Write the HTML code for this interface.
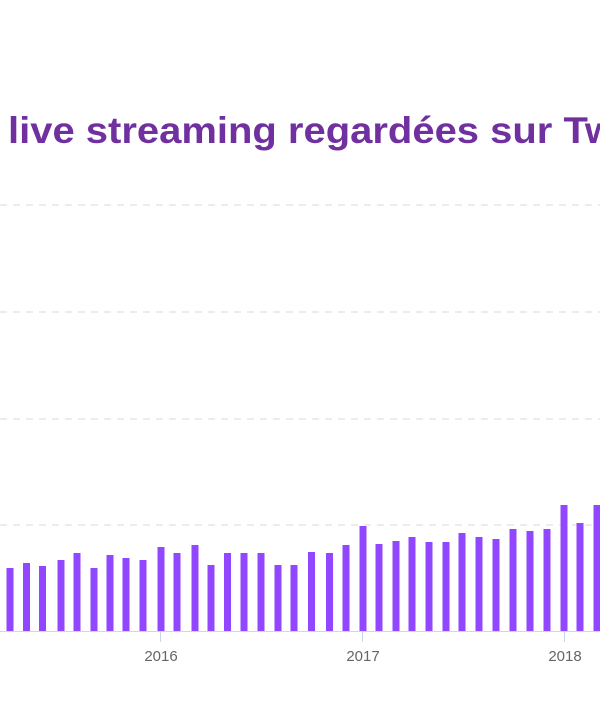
<!DOCTYPE html>
<html><head><meta charset="utf-8"><style>html,body{margin:0;padding:0;background:#fff;overflow:hidden}svg{display:block}</style></head>
<body>
<svg width="600" height="705" viewBox="0 0 600 705" xmlns="http://www.w3.org/2000/svg">
<text x="8" y="143" font-family="Liberation Sans, sans-serif" font-weight="bold" font-size="37" fill="#7030a0" textLength="608" lengthAdjust="spacingAndGlyphs">live streaming regardées sur Tw</text>
<g stroke="#e6e6e6" stroke-width="1.5" stroke-dasharray="7,6">
<line x1="0" y1="205" x2="600" y2="205"/><line x1="0" y1="312" x2="600" y2="312"/><line x1="0" y1="419" x2="600" y2="419"/><line x1="0" y1="525" x2="600" y2="525"/>
</g>
<g fill="#9147ff">
<rect x="6.5" y="568" width="7" height="63"/>
<rect x="23" y="563" width="7" height="68"/>
<rect x="39" y="566" width="7" height="65"/>
<rect x="57.5" y="560" width="7" height="71"/>
<rect x="73.5" y="553" width="7" height="78"/>
<rect x="90.5" y="568" width="7" height="63"/>
<rect x="106.5" y="555" width="7" height="76"/>
<rect x="122.5" y="558" width="7" height="73"/>
<rect x="139.5" y="560" width="7" height="71"/>
<rect x="157.5" y="547" width="7" height="84"/>
<rect x="173.5" y="553" width="7" height="78"/>
<rect x="191.5" y="545" width="7" height="86"/>
<rect x="207.5" y="565" width="7" height="66"/>
<rect x="224" y="553" width="7" height="78"/>
<rect x="240.5" y="553" width="7" height="78"/>
<rect x="257.5" y="553" width="7" height="78"/>
<rect x="274.5" y="565" width="7" height="66"/>
<rect x="290.5" y="565" width="7" height="66"/>
<rect x="308" y="552" width="7" height="79"/>
<rect x="326" y="553" width="7" height="78"/>
<rect x="342.5" y="545" width="7" height="86"/>
<rect x="359.5" y="526" width="7" height="105"/>
<rect x="375.5" y="544" width="7" height="87"/>
<rect x="392.5" y="541" width="7" height="90"/>
<rect x="408.5" y="537" width="7" height="94"/>
<rect x="425.5" y="542" width="7" height="89"/>
<rect x="442.5" y="542" width="7" height="89"/>
<rect x="458.5" y="533" width="7" height="98"/>
<rect x="475.5" y="537" width="7" height="94"/>
<rect x="492.5" y="539" width="7" height="92"/>
<rect x="509.5" y="529" width="7" height="102"/>
<rect x="526.5" y="531" width="7" height="100"/>
<rect x="543.5" y="529" width="7" height="102"/>
<rect x="560.5" y="505" width="7" height="126"/>
<rect x="576.5" y="523" width="7" height="108"/>
<rect x="593.5" y="505" width="7" height="126"/>
</g>
<line x1="0" y1="631.5" x2="600" y2="631.5" stroke="#ccd6eb" stroke-width="1"/>
<g stroke="#ccd6eb" stroke-width="1"><line x1="160.5" y1="631" x2="160.5" y2="642"/><line x1="362.5" y1="631" x2="362.5" y2="642"/><line x1="564.5" y1="631" x2="564.5" y2="642"/></g>
<g font-family="Liberation Sans, sans-serif" font-size="15" fill="#666" text-anchor="middle"><text x="161" y="661">2016</text><text x="363" y="661">2017</text><text x="565" y="661">2018</text></g>
</svg>
</body></html>
